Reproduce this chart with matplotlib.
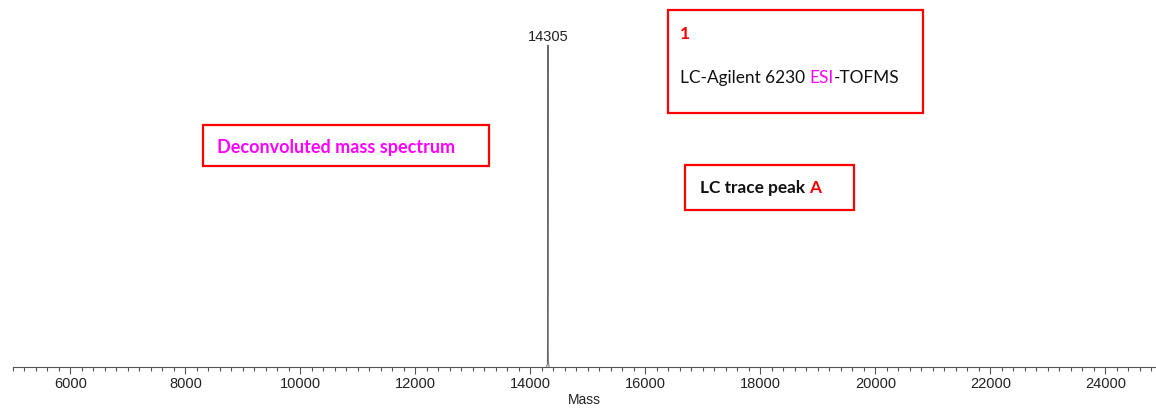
import matplotlib
matplotlib.use("Agg")
from matplotlib import pyplot as plt
from matplotlib.patches import Rectangle
from matplotlib.ticker import MultipleLocator

# deconvoluted spectrum around the main peak (mass, relative intensity)
peak_mass = [14280, 14295, 14300, 14303, 14305, 14307, 14310, 14325]
peak_int = [0.0, 0.01, 0.30, 0.62, 1.0, 0.40, 0.02, 0.0]
peak_label = "14305"

x_range = (5000, 24880)
major_step = 2000
minor_step = 200

W, H = 1156, 409
DPI = 100


def px(x, y):
    """pixel position (top-left origin) -> figure fraction"""
    return x / W, 1 - y / H


def box(fig, x0, y0, x1, y1):
    fx0, fy1 = px(x0, y0)
    fx1, fy0 = px(x1, y1)
    fig.add_artist(Rectangle((fx0, fy0), fx1 - fx0, fy1 - fy0,
                             transform=fig.transFigure, fill=False,
                             edgecolor='#ff0000', linewidth=1.6))


def text_row(fig, x, y, parts, **kw):
    """draw coloured pieces of text one after the other on one baseline"""
    renderer = fig.canvas.get_renderer()
    fx, fy = px(x, y)
    for s, c in parts:
        t = fig.text(fx, fy, s, color=c, va='baseline', ha='left', **kw)
        bb = t.get_window_extent(renderer)
        fx = fig.transFigure.inverted().transform((bb.x1, bb.y0))[0]


fig = plt.figure(figsize=(W / DPI, H / DPI), dpi=DPI)
ax = fig.add_axes([13 / W, 1 - 367 / H, (W - 13) / W, 367 / H])

ax.plot(peak_mass, peak_int, color='#666666', linewidth=0.7)
top = max(peak_int)
ax.annotate(peak_label, (peak_mass[peak_int.index(top)], top),
            xytext=(0, 0.5), textcoords='offset points', ha='center', va='bottom',
            fontsize=10.5, family='Liberation Sans', color='#222222')

ax.set_xlim(*x_range)
ax.set_ylim(0, 1.14)
ax.xaxis.set_major_locator(MultipleLocator(major_step))
ax.xaxis.set_minor_locator(MultipleLocator(minor_step))
ax.tick_params(axis='x', which='major', length=5, width=0.8, color='#555555',
               pad=2, labelsize=10.5, labelcolor='#222222')
ax.tick_params(axis='x', which='minor', length=3, width=0.8, color='#555555')
for lab in ax.get_xticklabels():
    lab.set_family('Liberation Sans')
ax.set_yticks([])
for side in ['left', 'right', 'top']:
    ax.spines[side].set_visible(False)
ax.spines['bottom'].set_color('#555555')
ax.spines['bottom'].set_linewidth(0.8)
ax.set_xlabel('Mass', fontsize=10, family='Liberation Sans', color='#222222', labelpad=2)

# annotation boxes
box(fig, 668, 10, 923, 113)
text_row(fig, 680, 39, [("1", '#ff0000')], fontsize=12.5, fontweight='bold', family='Lato')
text_row(fig, 680, 83, [("LC-Agilent 6230 ", '#111111'), ("ESI", '#ff00ff'),
                        ("-TOFMS", '#111111')], fontsize=12.4, family='Lato')

box(fig, 203, 125, 489, 166)
text_row(fig, 217, 153, [("Deconvoluted mass spectrum", '#ff00ff')],
         fontsize=13, fontweight='bold', family='Lato')

box(fig, 685, 165, 854, 210)
text_row(fig, 700, 193, [("LC trace peak ", '#111111'), ("A", '#ff0000')],
         fontsize=12.4, fontweight='bold', family='Lato')

fig.savefig("out.png", dpi=DPI)
